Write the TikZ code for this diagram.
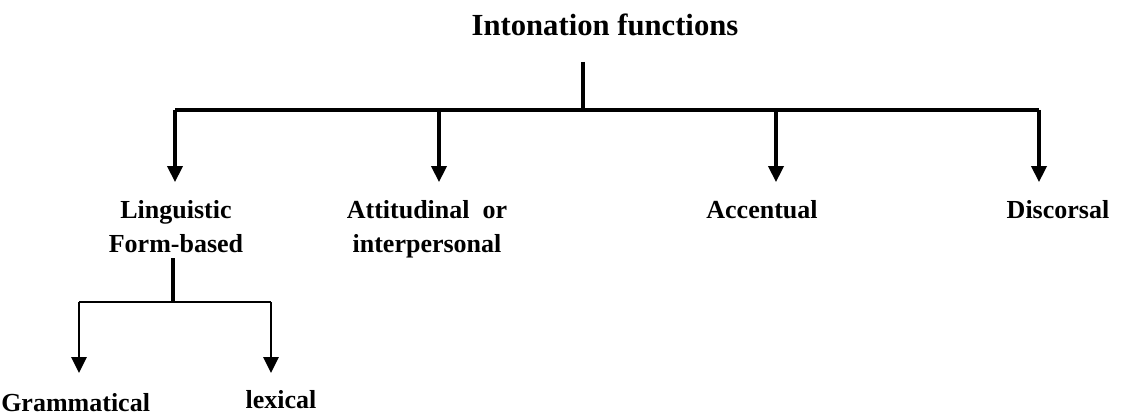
\documentclass[tikz,border=0pt]{standalone}
\usepackage{fontspec}
\setmainfont{Liberation Serif}
\usetikzlibrary{arrows.meta}
\begin{document}
\begin{tikzpicture}[x=0.75pt,y=-0.75pt,
  lbl/.style={font=\bfseries\fontsize{19.5}{25}\selectfont, align=center, inner sep=0pt, anchor=base},
  ttl/.style={font=\bfseries\fontsize{23}{27}\selectfont, inner sep=0pt, anchor=base},
  conn/.style={line width=2.3pt},
  thinconn/.style={line width=1.9pt},
  stem/.style={line width=3.6pt},
  arr/.style={line width=2.3pt, -{Triangle[width=11.5pt,length=12pt]}},
  thinarr/.style={line width=1.6pt, -{Triangle[width=11.5pt,length=12pt]}}]
\useasboundingbox (0,0) rectangle (1123,417);
% nodes
\node[ttl] (title) at (605,36) {Intonation functions};
\node[lbl] (ling) at (176,252) {Linguistic\\Form-based};
\node[lbl] (att) at (427,252) {Attitudinal~ or\\interpersonal};
\node[lbl] (acc) at (762,218) {Accentual};
\node[lbl] (dis) at (1058,218) {Discorsal};
\node[lbl, anchor=base west] (gram) at (1,411) {Grammatical};
\node[lbl] (lex) at (281,408) {lexical};
% coordinates
\coordinate (t0) at (583,62);
\coordinate (j0) at (583,110);
\coordinate (c1) at (175,110);
\coordinate (c4) at (1039,110);
\coordinate (b1) at (175,182);
\coordinate (b2) at (439,182);
\coordinate (b3) at (776,182);
\coordinate (b4) at (1039,182);
\coordinate (h2) at (439,110);
\coordinate (h3) at (776,110);
\coordinate (s0) at (173,258);
\coordinate (s1) at (173,302);
\coordinate (l1) at (79,302);
\coordinate (l2) at (271,302);
\coordinate (g1) at (79,373);
\coordinate (g2) at (271,373);
% connectors
\draw[conn] (t0) -- (j0);
\draw[conn] (c1) -- (c4);
\draw[arr] (c1) -- (b1);
\draw[arr] (h2) -- (b2);
\draw[arr] (h3) -- (b3);
\draw[arr] (c4) -- (b4);
\draw[stem] (s0) -- (s1);
\draw[thinconn] (l1) -- (l2);
\draw[thinarr] (l1) -- (g1);
\draw[thinarr] (l2) -- (g2);
\end{tikzpicture}
\end{document}
